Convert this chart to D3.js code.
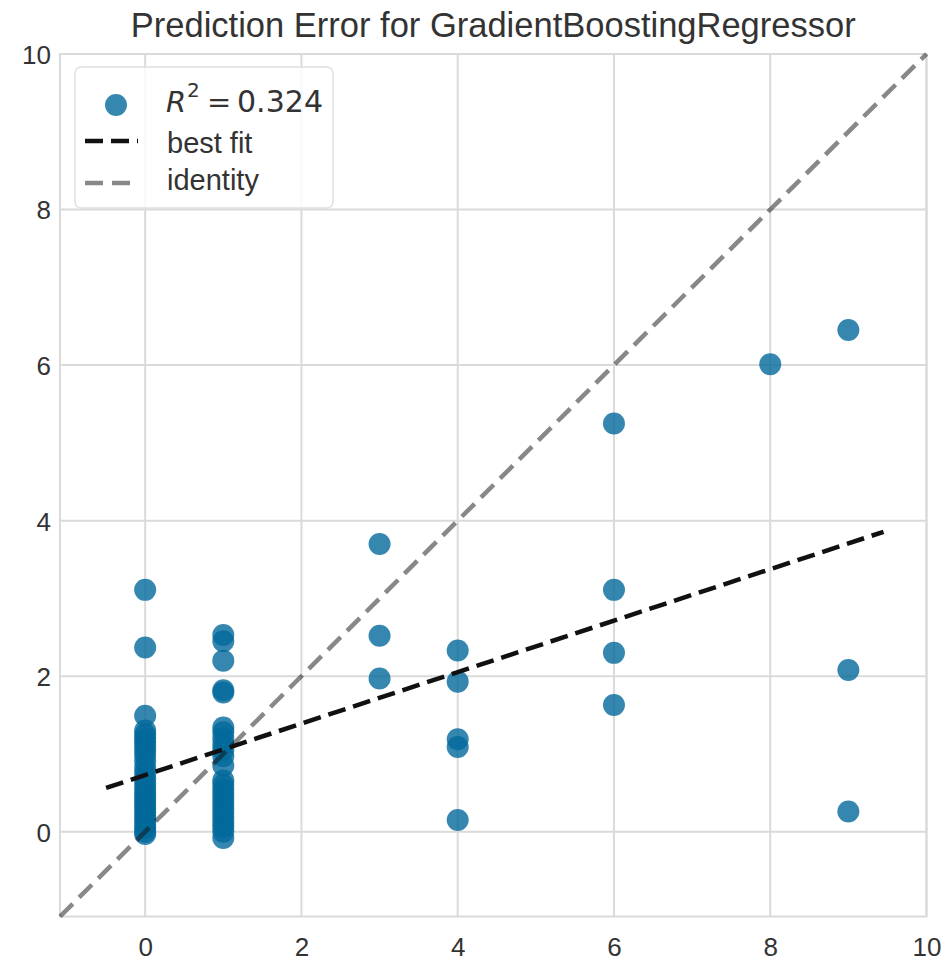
<!DOCTYPE html>
<html>
<head>
<meta charset="utf-8">
<script src="https://cdn.jsdelivr.net/npm/d3@7"></script>
<style>
  html, body { margin: 0; padding: 0; background: #fff; }
  svg { display: block; }
</style>
</head>
<body>
<svg id="chart" width="941" height="961"></svg>
<script>
// ---- data ----
const title = "Prediction Error for GradientBoostingRegressor";
const tickValues = [0, 2, 4, 6, 8, 10];
const axisDomain = [-1.09, 10];
const r2Label = "0.324";
const actualValues = [0, 1, 3, 4, 6, 8, 9];
const predAt0 = [3.11, 2.37, 1.49, 1.30, 1.25, 1.20, 1.15, 1.10, 1.04, 0.98, 0.90, 0.82, 0.75, 0.68, 0.62, 0.56, 0.50, 0.45, 0.40, 0.35, 0.30, 0.25, 0.20, 0.15, 0.10, 0.05, 0.00, -0.03];
const predAt1 = [2.53, 2.45, 2.20, 1.82, 1.79, 1.34, 1.28, 1.20, 1.12, 1.05, 0.97, 0.85, 0.66, 0.60, 0.54, 0.48, 0.42, 0.36, 0.30, 0.24, 0.18, 0.12, 0.06, 0.00, -0.08];
const predAt3 = [3.70, 2.52, 1.97];
const predAt4 = [2.33, 1.93, 1.19, 1.09, 0.15];
const predAt6 = [5.25, 3.11, 2.30, 1.63];
const predAt8 = [6.01];
const predAt9 = [6.45, 2.08, 0.26];
const predGroups = [predAt0, predAt1, predAt3, predAt4, predAt6, predAt8, predAt9];
const bestFitX = [-0.5, 9.45];
const bestFitY = [0.563, 3.856];
const legendLabels = ["best fit", "identity"];

// ---- layout ----
const svg = d3.select("#chart");
const pLeft = 60, pRight = 926.5, pTop = 54, pBottom = 916.5;
const x = d3.scaleLinear().domain(axisDomain).range([pLeft, pRight]);
const y = d3.scaleLinear().domain(axisDomain).range([pBottom, pTop]);
const pointColor = "#03699b";
const gridColor = "#dadada";
const textColor = "#333333";

// grid
const g = svg.append("g");
g.selectAll("line.vx").data(tickValues).join("line")
  .attr("x1", d => x(d)).attr("x2", d => x(d)).attr("y1", pTop).attr("y2", pBottom)
  .attr("stroke", gridColor).attr("stroke-width", 2);
g.selectAll("line.hy").data(tickValues).join("line")
  .attr("y1", d => y(d)).attr("y2", d => y(d)).attr("x1", pLeft).attr("x2", pRight)
  .attr("stroke", gridColor).attr("stroke-width", 2);
svg.append("rect").attr("x", pLeft).attr("y", pTop).attr("width", pRight - pLeft).attr("height", pBottom - pTop)
  .attr("fill", "none").attr("stroke", gridColor).attr("stroke-width", 2);

// axes (tick labels only, via d3 axes)
const xAxis = d3.axisBottom(x).tickValues(tickValues).tickSize(0).tickPadding(0);
const yAxis = d3.axisLeft(y).tickValues(tickValues).tickSize(0).tickPadding(0);
const xg = svg.append("g").attr("transform", `translate(0, ${pBottom + 21})`).call(xAxis);
const yg = svg.append("g").attr("transform", `translate(${pLeft - 9}, 0)`).call(yAxis);
[xg, yg].forEach(a => {
  a.select(".domain").remove();
  a.selectAll("text").attr("font-family", "Liberation Sans, Arial, sans-serif")
    .attr("font-size", 26).attr("fill", textColor);
});
xg.selectAll("text").attr("dy", "0.72em");
yg.selectAll("text").attr("dy", "0.36em");

// points
const points = [];
predGroups.forEach((arr, i) => arr.forEach(p => points.push({a: actualValues[i], p: p})));
svg.append("g").selectAll("circle").data(points).join("circle")
  .attr("cx", d => x(d.a)).attr("cy", d => y(d.p)).attr("r", 11)
  .attr("fill", pointColor).attr("fill-opacity", 0.8);

// best fit
const line = d3.line().x(d => x(d[0])).y(d => y(d[1]));
svg.append("path").datum([[bestFitX[0], bestFitY[0]], [bestFitX[1], bestFitY[1]]])
  .attr("d", line).attr("fill", "none").attr("stroke", "#111").attr("stroke-width", 4.5)
  .attr("stroke-dasharray", "18,8");
// identity
svg.append("path").datum([[axisDomain[0], axisDomain[0]], [axisDomain[1], axisDomain[1]]])
  .attr("d", line).attr("fill", "none").attr("stroke", "#111").attr("stroke-opacity", 0.5)
  .attr("stroke-width", 4.5).attr("stroke-dasharray", "18,9");

// legend
const lg = svg.append("g");
lg.append("rect").attr("x", 75).attr("y", 67).attr("width", 258).attr("height", 141).attr("rx", 6)
  .attr("fill", "#fff").attr("fill-opacity", 0.8).attr("stroke", "#e0e0e0").attr("stroke-width", 1.5);
lg.append("circle").attr("cx", 116).attr("cy", 105).attr("r", 11)
  .attr("fill", pointColor).attr("fill-opacity", 0.8);
const rFont = "DejaVu Sans, sans-serif";
lg.append("text").attr("x", 166).attr("y", 112).attr("font-family", rFont).attr("font-size", 29)
  .attr("font-style", "italic").attr("fill", textColor).text("R");
lg.append("text").attr("x", 187).attr("y", 97).attr("font-family", rFont).attr("font-size", 20)
  .attr("fill", textColor).text("2");
lg.append("text").attr("x", 207).attr("y", 112).attr("font-family", rFont).attr("font-size", 29)
  .attr("fill", textColor).text("=");
lg.append("text").attr("x", 237).attr("y", 112).attr("font-family", rFont).attr("font-size", 30)
  .attr("textLength", 86).attr("fill", textColor).text(r2Label);
lg.append("line").attr("x1", 85).attr("x2", 138).attr("y1", 141).attr("y2", 141)
  .attr("stroke", "#111").attr("stroke-width", 4.5).attr("stroke-dasharray", "18,8");
lg.append("line").attr("x1", 85).attr("x2", 138).attr("y1", 183).attr("y2", 183)
  .attr("stroke", "#111").attr("stroke-opacity", 0.5).attr("stroke-width", 4.5).attr("stroke-dasharray", "18,9");
lg.selectAll("text.lab").data(legendLabels).join("text").attr("class", "lab")
  .attr("x", 167).attr("y", (d, i) => 153 + i * 37)
  .attr("font-family", "Liberation Sans, Arial, sans-serif").attr("font-size", 29)
  .attr("fill", textColor).text(d => d);

// title
svg.append("text").attr("x", (pLeft + pRight) / 2).attr("y", 37).attr("text-anchor", "middle")
  .attr("font-family", "Liberation Sans, Arial, sans-serif").attr("font-size", 34.5)
  .attr("fill", textColor).text(title);
</script>
</body>
</html>
